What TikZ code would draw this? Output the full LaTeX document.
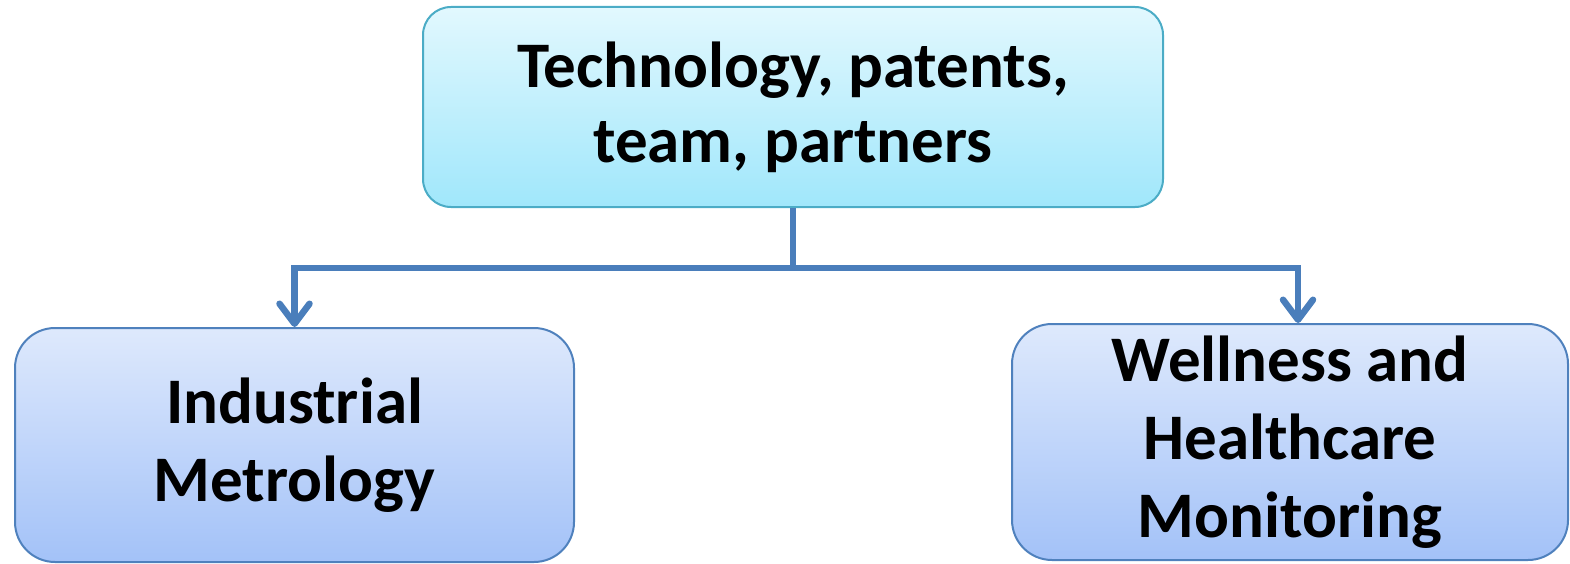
\documentclass[tikz,border=0pt]{standalone}
\usepackage{fontspec}
\setmainfont{Carlito}
\usetikzlibrary{arrows.meta}
\definecolor{techtop}{RGB}{226,248,254}
\definecolor{techbot}{RGB}{160,231,251}
\definecolor{techline}{RGB}{75,172,198}
\definecolor{apptop}{RGB}{222,233,252}
\definecolor{appbot}{RGB}{163,194,248}
\definecolor{appline}{RGB}{79,129,189}
\definecolor{linkblue}{RGB}{74,126,187}
\begin{document}
\begin{tikzpicture}[x=1pt,y=-1pt,
    box/.style={rectangle,line width=2pt,align=center,
      font=\fontsize{65}{75}\selectfont\bfseries},
    appbox/.style={box,rounded corners=40pt,draw=appline,
      top color=apptop,bottom color=appbot,
      font=\fontsize{65}{78}\selectfont\bfseries},
    link/.style={draw=linkblue,line width=6.5pt,line join=miter,
      -{Straight Barb[length=20pt,width=30pt,line join=round,line cap=round]}}]
  \useasboundingbox (0,0) rectangle (1570,564);

  \node [box,rounded corners=28pt,draw=techline,top color=techtop,bottom color=techbot,
    minimum width=740pt,minimum height=200pt] (tech) at (793,107)
    {Technology, patents,\\team, partners};

  \node [appbox,minimum width=559pt,minimum height=234pt] (metro) at (294.5,445)
    {Industrial\\Metrology};
  \node [appbox,minimum width=556pt,minimum height=236pt] (health) at (1290,442)
    {Wellness and\\Healthcare\\Monitoring};

  \draw [link] (tech.south) -- ++(0,60) -| (metro.north);
  \draw [link] (tech.south) -- ++(0,60) -| ([xshift=8pt]health.north);
\end{tikzpicture}
\end{document}
